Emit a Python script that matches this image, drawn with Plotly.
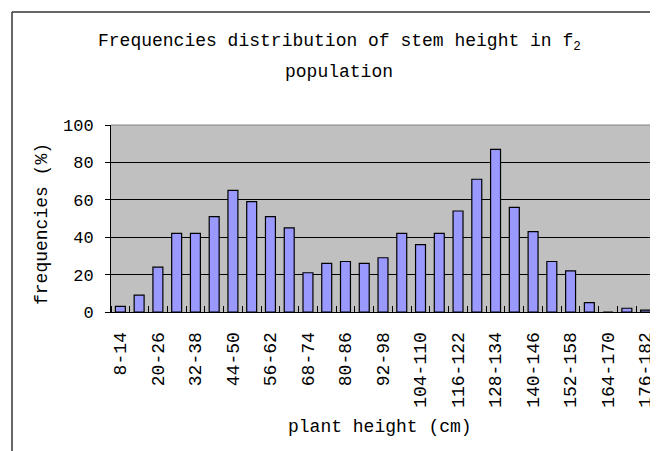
import plotly.graph_objects as go

categories = [f"{a}-{a+6}" for a in range(8, 182, 6)]
frequencies = [3, 9, 24, 42, 42, 51, 65, 59, 51, 45, 21, 26, 27, 26, 29,
               42, 36, 42, 54, 71, 87, 56, 43, 27, 22, 5, 0, 2, 1]
title_line1 = "Frequencies distribution of stem height in f<sub>2</sub>"
title_line2 = "population"
x_title = "plant height (cm)"
y_title = "frequencies (%)"

FONT = "Liberation Mono"
positions = list(range(len(categories)))
label_pos = positions[::2]
label_txt = categories[::2]

fig = go.Figure()
fig.add_trace(go.Bar(
    x=positions, y=frequencies,
    marker=dict(color="#9999FF", line=dict(color="black", width=1.2)),
    hoverinfo="x+y",
))

OFF = 8  # page body margin
W, H = 650, 443
L, R, T, B = 103, 3, 117, 139
pw = W - L - R
ph = H - T - B

def px_x(px):
    return (px - OFF - L) / pw

def px_y(py):
    return (H - B - (py - OFF)) / ph

fig.update_layout(
    width=W, height=H,
    margin=dict(l=L, r=R, t=T, b=B, pad=0),
    paper_bgcolor="white",
    plot_bgcolor="#C0C0C0",
    bargap=0.47,
    showlegend=False,
    font=dict(family=FONT, color="black", size=17),
    xaxis=dict(
        range=[-0.5, len(categories) - 0.5],
        tickmode="array", tickvals=label_pos, ticktext=label_txt,
        tickangle=-90, ticks="", showgrid=False,
        showline=True, linecolor="black", linewidth=1,
        tickfont=dict(family=FONT, size=18),
        ticklabelstandoff=12,
        minor=dict(tickvals=[p - 0.5 for p in positions] + [len(positions) - 0.5],
                   ticks="inside", ticklen=6, tickcolor="black", tickwidth=1,
                   showgrid=False),
        zeroline=False, fixedrange=True,
    ),
    yaxis=dict(
        range=[0, 100], dtick=20, tick0=0,
        ticks="outside", ticklen=5, tickcolor="black",
        showgrid=True, gridcolor="black", gridwidth=1,
        showline=True, linecolor="black", linewidth=1,
        tickfont=dict(family=FONT, size=17),
        ticklabelstandoff=8,
        zeroline=False, fixedrange=True,
    ),
    annotations=[
        dict(text=title_line1, x=px_x(339), y=px_y(42), xref="paper", yref="paper",
             showarrow=False, font=dict(family=FONT, size=18), xanchor="center", yanchor="middle"),
        dict(text=title_line2, x=px_x(339), y=px_y(72), xref="paper", yref="paper",
             showarrow=False, font=dict(family=FONT, size=18), xanchor="center", yanchor="middle"),
        dict(text=x_title, x=px_x(380), y=px_y(427), xref="paper", yref="paper",
             showarrow=False, font=dict(family=FONT, size=18), xanchor="center", yanchor="middle"),
        dict(text=y_title, x=px_x(42), y=px_y(224), xref="paper", yref="paper",
             showarrow=False, textangle=-90, font=dict(family=FONT, size=18),
             xanchor="center", yanchor="middle"),
    ],
    shapes=[
        dict(type="line", xref="paper", yref="paper", x0=0, x1=1, y0=1, y1=1,
             line=dict(color="#808080", width=1)),
        dict(type="line", xref="paper", yref="paper", x0=1, x1=1, y0=0, y1=1,
             line=dict(color="#808080", width=1)),
        dict(type="line", xref="paper", yref="paper", x0=px_x(12), x1=px_x(12),
             y0=px_y(12), y1=px_y(470), line=dict(color="#333333", width=1.5)),
        dict(type="line", xref="paper", yref="paper", x0=px_x(12), x1=px_x(680),
             y0=px_y(12), y1=px_y(12), line=dict(color="#333333", width=1.5)),
    ],
)

fig.write_html("out.html")
